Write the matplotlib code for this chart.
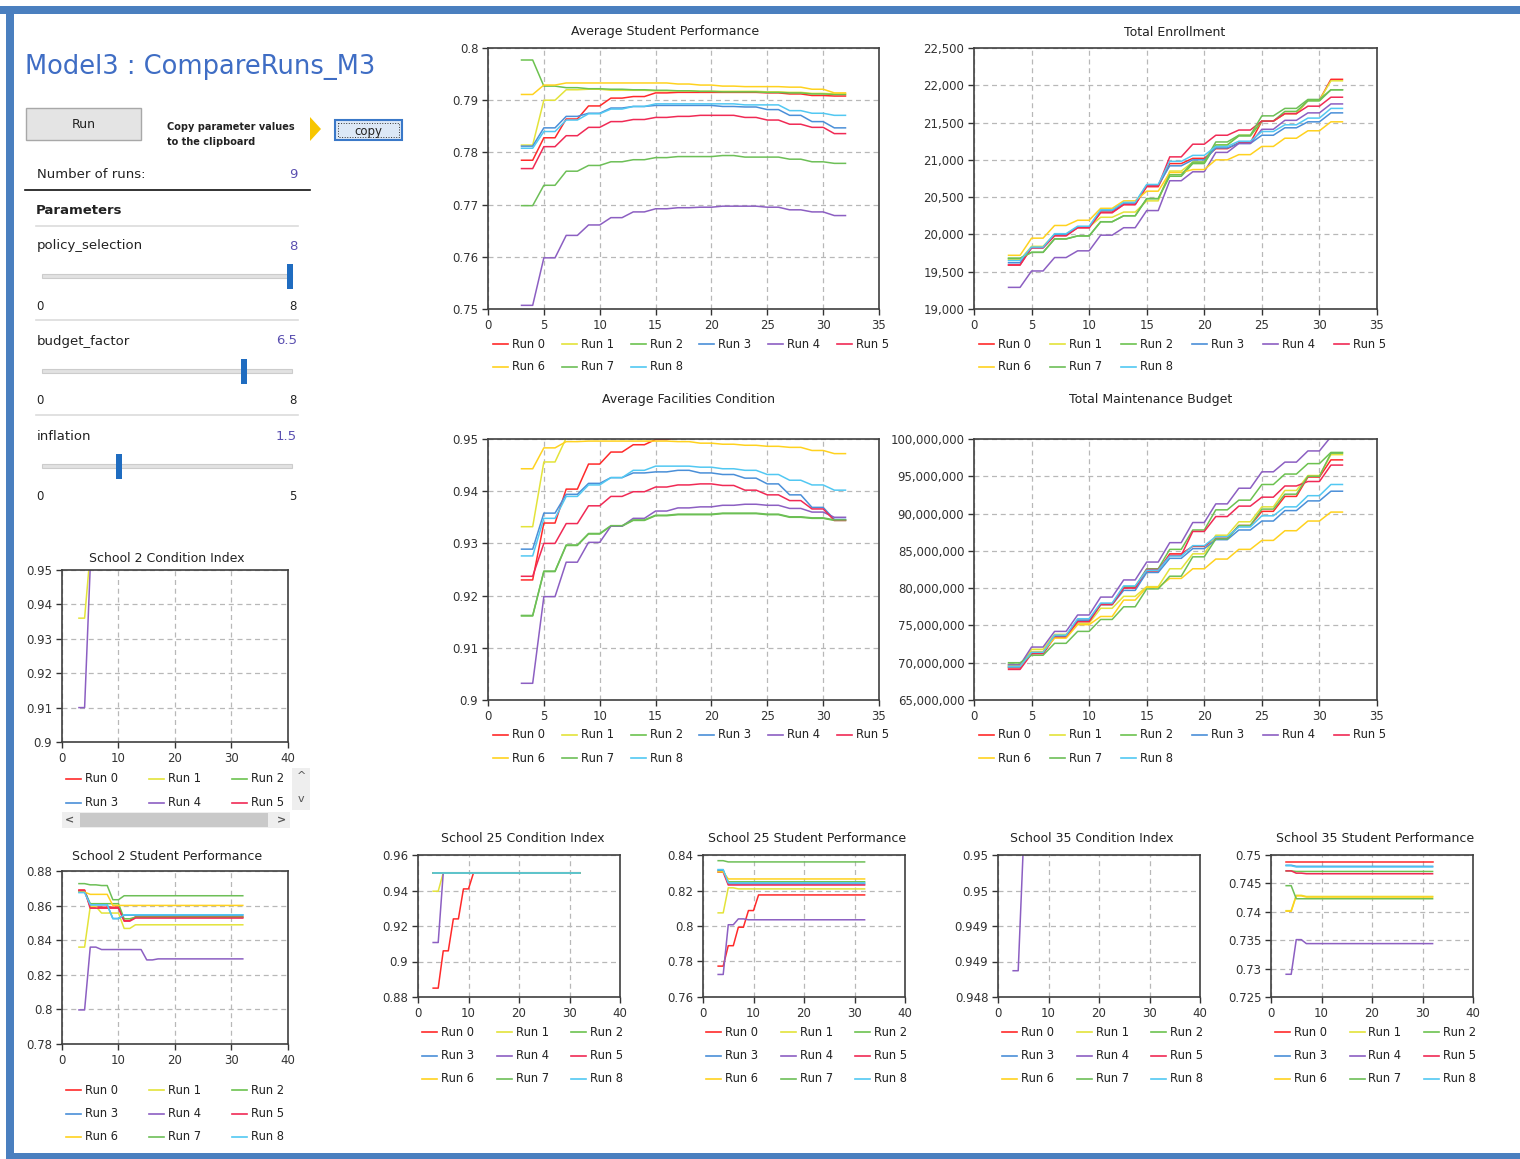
import numpy as np
import matplotlib
matplotlib.use("Agg")
import matplotlib.pyplot as plt
from matplotlib.patches import Rectangle, Polygon
from matplotlib.ticker import FuncFormatter, FixedFormatter

W, H = 1520, 1159

# time axis: values change every 2 steps, so each list holds one value per step pair (3-4, 5-6, ... 31-32)
X = np.arange(3, 33)
RUNS = ["Run 0", "Run 1", "Run 2", "Run 3", "Run 4", "Run 5", "Run 6", "Run 7", "Run 8"]
COLORS = ["#ff2a2a", "#e3e33a", "#6cc24f", "#4a8fd8", "#8c5fc2", "#f02a55", "#ffd21f", "#6dbf57", "#52c8f2"]

avg_student_perf = [
    [0.7785, 0.7828, 0.7864, 0.7889, 0.7904, 0.7907, 0.7914, 0.7915, 0.7915, 0.7915, 0.7915, 0.7914, 0.7912, 0.7909, 0.7908],
    [0.7814, 0.7900, 0.7920, 0.7921, 0.7919, 0.7919, 0.7918, 0.7918, 0.7917, 0.7917, 0.7917, 0.7916, 0.7915, 0.7913, 0.7912],
    [0.7977, 0.7927, 0.7924, 0.7922, 0.7921, 0.7920, 0.7919, 0.7918, 0.7917, 0.7916, 0.7916, 0.7915, 0.7914, 0.7912, 0.7911],
    [0.7812, 0.7847, 0.7869, 0.7875, 0.7885, 0.7888, 0.7890, 0.7890, 0.7890, 0.7888, 0.7887, 0.7882, 0.7871, 0.7859, 0.7847],
    [0.7507, 0.7598, 0.7641, 0.7661, 0.7675, 0.7686, 0.7692, 0.7694, 0.7695, 0.7697, 0.7697, 0.7695, 0.7690, 0.7686, 0.7679],
    [0.7769, 0.7811, 0.7832, 0.7848, 0.7859, 0.7863, 0.7867, 0.7869, 0.7871, 0.7871, 0.7867, 0.7862, 0.7854, 0.7848, 0.7836],
    [0.7911, 0.7929, 0.7933, 0.7933, 0.7933, 0.7933, 0.7933, 0.7931, 0.7929, 0.7927, 0.7926, 0.7926, 0.7925, 0.7921, 0.7914],
    [0.7698, 0.7737, 0.7764, 0.7775, 0.7782, 0.7786, 0.7790, 0.7792, 0.7792, 0.7794, 0.7791, 0.7791, 0.7787, 0.7782, 0.7779],
    [0.7808, 0.7840, 0.7862, 0.7874, 0.7883, 0.7888, 0.7893, 0.7893, 0.7893, 0.7893, 0.7891, 0.7891, 0.7880, 0.7875, 0.7871],
]

total_enrollment = [
    [19590, 19830, 19990, 20090, 20300, 20400, 20640, 20950, 21020, 21150, 21230, 21520, 21620, 21800, 22080],
    [19660, 19840, 20000, 20100, 20230, 20300, 20450, 20850, 20970, 21200, 21330, 21520, 21620, 21800, 22060],
    [19680, 19760, 19940, 19980, 20170, 20250, 20480, 20780, 20950, 21200, 21320, 21520, 21650, 21790, 21940],
    [19620, 19820, 20000, 20100, 20320, 20420, 20660, 20920, 21000, 21160, 21220, 21330, 21430, 21510, 21630],
    [19290, 19510, 19690, 19780, 19990, 20090, 20320, 20720, 20840, 21100, 21220, 21410, 21530, 21630, 21750],
    [19590, 19820, 19980, 20090, 20290, 20400, 20650, 21040, 21210, 21330, 21400, 21520, 21620, 21720, 21840],
    [19720, 19950, 20120, 20190, 20350, 20450, 20580, 20830, 20870, 21000, 21070, 21180, 21290, 21390, 21510],
    [19680, 19760, 19940, 19980, 20170, 20250, 20480, 20800, 20970, 21240, 21330, 21590, 21690, 21810, 21940],
    [19650, 19830, 20010, 20110, 20330, 20430, 20670, 20980, 21060, 21180, 21250, 21380, 21470, 21560, 21690],
]

avg_facilities = [
    [0.9230, 0.9339, 0.9404, 0.9452, 0.9475, 0.9489, 0.9499, 0.9503, 0.9505, 0.9506, 0.9506, 0.9505, 0.9504, 0.9503, 0.9502],
    [0.9332, 0.9456, 0.9502, 0.9508, 0.9510, 0.9511, 0.9512, 0.9512, 0.9511, 0.9510, 0.9509, 0.9508, 0.9507, 0.9505, 0.9503],
    [0.9161, 0.9246, 0.9296, 0.9318, 0.9333, 0.9344, 0.9353, 0.9355, 0.9355, 0.9357, 0.9357, 0.9355, 0.9350, 0.9348, 0.9344],
    [0.9289, 0.9358, 0.9394, 0.9415, 0.9426, 0.9435, 0.9437, 0.9440, 0.9435, 0.9432, 0.9425, 0.9414, 0.9393, 0.9369, 0.9346],
    [0.9032, 0.9198, 0.9264, 0.9302, 0.9333, 0.9348, 0.9362, 0.9368, 0.9370, 0.9373, 0.9375, 0.9373, 0.9367, 0.9360, 0.9350],
    [0.9237, 0.9300, 0.9338, 0.9372, 0.9390, 0.9399, 0.9408, 0.9412, 0.9414, 0.9411, 0.9402, 0.9393, 0.9382, 0.9366, 0.9344],
    [0.9443, 0.9483, 0.9495, 0.9496, 0.9496, 0.9496, 0.9496, 0.9495, 0.9492, 0.9490, 0.9488, 0.9486, 0.9484, 0.9478, 0.9472],
    [0.9162, 0.9247, 0.9297, 0.9319, 0.9334, 0.9345, 0.9354, 0.9356, 0.9356, 0.9358, 0.9358, 0.9356, 0.9351, 0.9349, 0.9345],
    [0.9276, 0.9348, 0.9390, 0.9412, 0.9426, 0.9440, 0.9448, 0.9448, 0.9446, 0.9443, 0.9440, 0.9432, 0.9421, 0.9412, 0.9402],
]

# millions
maintenance_budget = [
    [69.3, 71.3, 73.5, 75.7, 77.9, 80.1, 82.3, 84.6, 85.6, 86.7, 88.4, 90.3, 92.3, 94.9, 97.2],
    [69.6, 71.8, 73.8, 75.3, 77.3, 78.9, 80.2, 82.6, 84.6, 87.1, 88.9, 90.9, 93.1, 95.1, 97.9],
    [69.8, 71.4, 73.6, 75.6, 77.8, 80.2, 82.6, 85.2, 87.8, 90.5, 91.8, 93.9, 95.3, 96.7, 98.2],
    [69.4, 71.3, 73.5, 75.7, 77.8, 79.7, 82.1, 84.0, 85.3, 86.5, 87.8, 89.0, 90.4, 91.7, 93.0],
    [69.7, 72.1, 74.2, 76.4, 78.8, 81.1, 83.5, 86.1, 88.8, 91.3, 93.4, 95.6, 96.9, 98.4, 100.3],
    [69.1, 71.2, 73.4, 75.5, 77.8, 80.0, 82.5, 84.4, 87.6, 89.6, 91.0, 92.2, 93.7, 94.3, 96.5],
    [69.5, 71.5, 73.3, 75.1, 76.2, 78.4, 80.1, 81.3, 82.6, 83.9, 85.2, 86.4, 87.7, 89.0, 90.2],
    [70.0, 71.0, 72.6, 74.2, 75.8, 77.5, 79.9, 81.6, 84.2, 86.6, 88.4, 90.6, 92.6, 95.0, 98.1],
    [69.5, 71.4, 73.7, 75.9, 78.0, 80.3, 82.4, 84.3, 85.7, 86.9, 88.2, 89.7, 90.9, 92.4, 93.9],
]

school2_condition = [
    [0.955, 0.955, 0.955, 0.955, 0.955, 0.955, 0.955, 0.955, 0.955, 0.955, 0.955, 0.955, 0.955, 0.955, 0.955],
    [0.936, 0.955, 0.955, 0.955, 0.955, 0.955, 0.955, 0.955, 0.955, 0.955, 0.955, 0.955, 0.955, 0.955, 0.955],
    [0.955, 0.955, 0.955, 0.955, 0.955, 0.955, 0.955, 0.955, 0.955, 0.955, 0.955, 0.955, 0.955, 0.955, 0.955],
    [0.955, 0.955, 0.955, 0.955, 0.955, 0.955, 0.955, 0.955, 0.955, 0.955, 0.955, 0.955, 0.955, 0.955, 0.955],
    [0.910, 0.951, 0.955, 0.955, 0.955, 0.955, 0.955, 0.955, 0.955, 0.955, 0.955, 0.955, 0.955, 0.955, 0.955],
    [0.955, 0.955, 0.955, 0.955, 0.955, 0.955, 0.955, 0.955, 0.955, 0.955, 0.955, 0.955, 0.955, 0.955, 0.955],
    [0.955, 0.955, 0.955, 0.955, 0.955, 0.955, 0.955, 0.955, 0.955, 0.955, 0.955, 0.955, 0.955, 0.955, 0.955],
    [0.955, 0.955, 0.955, 0.955, 0.955, 0.955, 0.955, 0.955, 0.955, 0.955, 0.955, 0.955, 0.955, 0.955, 0.955],
    [0.955, 0.955, 0.955, 0.955, 0.955, 0.955, 0.955, 0.955, 0.955, 0.955, 0.955, 0.955, 0.955, 0.955, 0.955],
]

school2_perf = [
    [0.8690, 0.8591, 0.8591, 0.8591, 0.8514, 0.8535, 0.8535, 0.8535, 0.8535, 0.8535, 0.8535, 0.8535, 0.8535, 0.8535, 0.8535],
    [0.8360, 0.8595, 0.8557, 0.8557, 0.8468, 0.8489, 0.8489, 0.8489, 0.8489, 0.8489, 0.8489, 0.8489, 0.8489, 0.8489, 0.8489],
    [0.8685, 0.8611, 0.8611, 0.8611, 0.8524, 0.8533, 0.8533, 0.8533, 0.8533, 0.8533, 0.8533, 0.8533, 0.8533, 0.8533, 0.8533],
    [0.8680, 0.8605, 0.8605, 0.8525, 0.8545, 0.8545, 0.8545, 0.8545, 0.8545, 0.8545, 0.8545, 0.8545, 0.8545, 0.8545, 0.8545],
    [0.7997, 0.8360, 0.8346, 0.8346, 0.8346, 0.8346, 0.8286, 0.8292, 0.8292, 0.8292, 0.8292, 0.8292, 0.8292, 0.8292, 0.8292],
    [0.8688, 0.8585, 0.8585, 0.8585, 0.8510, 0.8528, 0.8528, 0.8528, 0.8528, 0.8528, 0.8528, 0.8528, 0.8528, 0.8528, 0.8528],
    [0.8678, 0.8665, 0.8665, 0.8601, 0.8601, 0.8601, 0.8601, 0.8601, 0.8601, 0.8601, 0.8601, 0.8601, 0.8601, 0.8601, 0.8601],
    [0.8727, 0.8720, 0.8716, 0.8634, 0.8657, 0.8657, 0.8657, 0.8657, 0.8657, 0.8657, 0.8657, 0.8657, 0.8657, 0.8657, 0.8657],
    [0.8675, 0.8605, 0.8605, 0.8525, 0.8547, 0.8547, 0.8547, 0.8547, 0.8547, 0.8547, 0.8547, 0.8547, 0.8547, 0.8547, 0.8547],
]

school25_condition = [
    [0.885, 0.906, 0.924, 0.9409, 0.95, 0.95, 0.95, 0.95, 0.95, 0.95, 0.95, 0.95, 0.95, 0.95, 0.95],
    [0.9396, 0.95, 0.95, 0.95, 0.95, 0.95, 0.95, 0.95, 0.95, 0.95, 0.95, 0.95, 0.95, 0.95, 0.95],
    [0.95, 0.95, 0.95, 0.95, 0.95, 0.95, 0.95, 0.95, 0.95, 0.95, 0.95, 0.95, 0.95, 0.95, 0.95],
    [0.95, 0.95, 0.95, 0.95, 0.95, 0.95, 0.95, 0.95, 0.95, 0.95, 0.95, 0.95, 0.95, 0.95, 0.95],
    [0.9107, 0.95, 0.95, 0.95, 0.95, 0.95, 0.95, 0.95, 0.95, 0.95, 0.95, 0.95, 0.95, 0.95, 0.95],
    [0.95, 0.95, 0.95, 0.95, 0.95, 0.95, 0.95, 0.95, 0.95, 0.95, 0.95, 0.95, 0.95, 0.95, 0.95],
    [0.95, 0.95, 0.95, 0.95, 0.95, 0.95, 0.95, 0.95, 0.95, 0.95, 0.95, 0.95, 0.95, 0.95, 0.95],
    [0.95, 0.95, 0.95, 0.95, 0.95, 0.95, 0.95, 0.95, 0.95, 0.95, 0.95, 0.95, 0.95, 0.95, 0.95],
    [0.95, 0.95, 0.95, 0.95, 0.95, 0.95, 0.95, 0.95, 0.95, 0.95, 0.95, 0.95, 0.95, 0.95, 0.95],
]

school25_perf = [
    [0.7774, 0.7889, 0.7993, 0.8087, 0.8175, 0.8175, 0.8175, 0.8175, 0.8175, 0.8175, 0.8175, 0.8175, 0.8175, 0.8175, 0.8175],
    [0.8074, 0.8215, 0.8209, 0.8209, 0.8209, 0.8209, 0.8209, 0.8209, 0.8209, 0.8209, 0.8209, 0.8209, 0.8209, 0.8209, 0.8209],
    [0.8310, 0.8249, 0.8249, 0.8249, 0.8249, 0.8249, 0.8249, 0.8249, 0.8249, 0.8249, 0.8249, 0.8249, 0.8249, 0.8249, 0.8249],
    [0.8315, 0.8237, 0.8237, 0.8237, 0.8237, 0.8237, 0.8237, 0.8237, 0.8237, 0.8237, 0.8237, 0.8237, 0.8237, 0.8237, 0.8237],
    [0.7727, 0.8007, 0.8040, 0.8035, 0.8035, 0.8035, 0.8035, 0.8035, 0.8035, 0.8035, 0.8035, 0.8035, 0.8035, 0.8035, 0.8035],
    [0.8303, 0.8231, 0.8231, 0.8231, 0.8231, 0.8231, 0.8231, 0.8231, 0.8231, 0.8231, 0.8231, 0.8231, 0.8231, 0.8231, 0.8231],
    [0.8305, 0.8265, 0.8265, 0.8265, 0.8265, 0.8265, 0.8265, 0.8265, 0.8265, 0.8265, 0.8265, 0.8265, 0.8265, 0.8265, 0.8265],
    [0.8368, 0.8361, 0.8361, 0.8361, 0.8361, 0.8361, 0.8361, 0.8361, 0.8361, 0.8361, 0.8361, 0.8361, 0.8361, 0.8361, 0.8361],
    [0.8318, 0.8243, 0.8243, 0.8243, 0.8243, 0.8243, 0.8243, 0.8243, 0.8243, 0.8243, 0.8243, 0.8243, 0.8243, 0.8243, 0.8243],
]

school35_condition = [
    [0.9502, 0.9502, 0.9502, 0.9502, 0.9502, 0.9502, 0.9502, 0.9502, 0.9502, 0.9502, 0.9502, 0.9502, 0.9502, 0.9502, 0.9502],
    [0.9502, 0.9502, 0.9502, 0.9502, 0.9502, 0.9502, 0.9502, 0.9502, 0.9502, 0.9502, 0.9502, 0.9502, 0.9502, 0.9502, 0.9502],
    [0.9502, 0.9502, 0.9502, 0.9502, 0.9502, 0.9502, 0.9502, 0.9502, 0.9502, 0.9502, 0.9502, 0.9502, 0.9502, 0.9502, 0.9502],
    [0.9502, 0.9502, 0.9502, 0.9502, 0.9502, 0.9502, 0.9502, 0.9502, 0.9502, 0.9502, 0.9502, 0.9502, 0.9502, 0.9502, 0.9502],
    [0.94837, 0.9501, 0.9502, 0.9502, 0.9502, 0.9502, 0.9502, 0.9502, 0.9502, 0.9502, 0.9502, 0.9502, 0.9502, 0.9502, 0.9502],
    [0.9502, 0.9502, 0.9502, 0.9502, 0.9502, 0.9502, 0.9502, 0.9502, 0.9502, 0.9502, 0.9502, 0.9502, 0.9502, 0.9502, 0.9502],
    [0.9502, 0.9502, 0.9502, 0.9502, 0.9502, 0.9502, 0.9502, 0.9502, 0.9502, 0.9502, 0.9502, 0.9502, 0.9502, 0.9502, 0.9502],
    [0.9502, 0.9502, 0.9502, 0.9502, 0.9502, 0.9502, 0.9502, 0.9502, 0.9502, 0.9502, 0.9502, 0.9502, 0.9502, 0.9502, 0.9502],
    [0.9502, 0.9502, 0.9502, 0.9502, 0.9502, 0.9502, 0.9502, 0.9502, 0.9502, 0.9502, 0.9502, 0.9502, 0.9502, 0.9502, 0.9502],
]
school35_cond_ticklabels = ["0.948", "0.949", "0.949", "0.95", "0.95"]

school35_perf = [
    [0.7488, 0.7488, 0.7488, 0.7488, 0.7488, 0.7488, 0.7488, 0.7488, 0.7488, 0.7488, 0.7488, 0.7488, 0.7488, 0.7488, 0.7488],
    [0.7402, 0.7429, 0.7427, 0.7427, 0.7427, 0.7427, 0.7427, 0.7427, 0.7427, 0.7427, 0.7427, 0.7427, 0.7427, 0.7427, 0.7427],
    [0.7472, 0.7471, 0.7471, 0.7471, 0.7471, 0.7471, 0.7471, 0.7471, 0.7471, 0.7471, 0.7471, 0.7471, 0.7471, 0.7471, 0.7471],
    [0.7482, 0.7480, 0.7480, 0.7480, 0.7480, 0.7480, 0.7480, 0.7480, 0.7480, 0.7480, 0.7480, 0.7480, 0.7480, 0.7480, 0.7480],
    [0.7290, 0.7351, 0.7344, 0.7344, 0.7344, 0.7344, 0.7344, 0.7344, 0.7344, 0.7344, 0.7344, 0.7344, 0.7344, 0.7344, 0.7344],
    [0.7472, 0.7468, 0.7467, 0.7467, 0.7467, 0.7467, 0.7467, 0.7467, 0.7467, 0.7467, 0.7467, 0.7467, 0.7467, 0.7467, 0.7467],
    [0.7401, 0.7428, 0.7426, 0.7426, 0.7426, 0.7426, 0.7426, 0.7426, 0.7426, 0.7426, 0.7426, 0.7426, 0.7426, 0.7426, 0.7426],
    [0.7446, 0.7423, 0.7423, 0.7423, 0.7423, 0.7423, 0.7423, 0.7423, 0.7423, 0.7423, 0.7423, 0.7423, 0.7423, 0.7423, 0.7423],
    [0.7481, 0.7479, 0.7479, 0.7479, 0.7479, 0.7479, 0.7479, 0.7479, 0.7479, 0.7479, 0.7479, 0.7479, 0.7479, 0.7479, 0.7479],
]

# parameter panel values
n_runs = 9
params = [("policy_selection", "8", 8, 0, 8), ("budget_factor", "6.5", 6.5, 0, 8), ("inflation", "1.5", 1.5, 0, 5)]

fig = plt.figure(figsize=(W / 100, H / 100), dpi=100)
fig.patch.set_facecolor("white")

# background axes in pixel coords for the frame, panel and legends
bg = fig.add_axes([0, 0, 1, 1])
bg.set_xlim(0, W)
bg.set_ylim(H, 0)
bg.axis("off")

BLUE = "#4a7fbf"
bg.add_patch(Rectangle((0, 6), W, 8, color=BLUE, lw=0))
bg.add_patch(Rectangle((6, 6), 8, H - 6, color=BLUE, lw=0))
bg.add_patch(Rectangle((6, 1153), W, 6, color=BLUE, lw=0))

TXT = "#222222"
bg.text(25, 67, "Model3 : CompareRuns_M3", fontsize=18.5, color="#3f6dc4", va="center", ha="left")
bg.add_patch(Rectangle((26, 108), 115, 32, fc="#e4e4e4", ec="#a8a8a8", lw=1))
bg.text(84, 125, "Run", fontsize=9, color=TXT, ha="center", va="center")
bg.text(167, 127, "Copy parameter values", fontsize=7, fontweight="bold", color=TXT, va="center")
bg.text(167, 142, "to the clipboard", fontsize=7, fontweight="bold", color=TXT, va="center")
bg.add_patch(Polygon([(310, 117), (321, 129), (310, 141)], closed=True, color="#f7c600", lw=0))
bg.add_patch(Rectangle((335, 120), 67, 20, fc="#dce8f6", ec="#3a78c8", lw=1.5))
bg.add_patch(Rectangle((338, 123), 61, 14, fill=False, ec="#333333", lw=0.7, ls=":"))
bg.text(368, 131, "copy", fontsize=8.5, color=TXT, ha="center", va="center")

bg.text(37, 175, "Number of runs:", fontsize=9.5, color=TXT, va="center")
bg.text(297, 175, str(n_runs), fontsize=9.5, color="#5a4fb0", va="center", ha="right")
bg.plot([25, 310], [190, 190], color="#111111", lw=1.2)
bg.text(36, 210, "Parameters", fontsize=9.5, fontweight="bold", color=TXT, va="center")
bg.plot([36, 298], [226, 226], color="#dcdcdc", lw=1.2)

for k, (pname, plabel, pval, pmin, pmax) in enumerate(params):
    y0 = 246 + 95 * k
    bg.text(37, y0, pname, fontsize=9.5, color=TXT, va="center")
    bg.text(297, y0, plabel, fontsize=9.5, color="#5a4fb0", va="center", ha="right")
    ty = y0 + 30
    bg.add_patch(Rectangle((42, ty - 2), 250, 4, fc="#e2e2e2", ec="#cccccc", lw=0.8))
    hx = 45 + (pval - pmin) / (pmax - pmin) * 245
    bg.add_patch(Rectangle((hx - 3, ty - 12), 6, 25, fc="#1f6cc0", lw=0))
    bg.text(36, y0 + 60, str(pmin), fontsize=8.5, color=TXT, va="center")
    bg.text(297, y0 + 60, str(pmax), fontsize=8.5, color=TXT, va="center", ha="right")
    if k < 2:
        bg.plot([36, 298], [y0 + 74, y0 + 74], color="#dcdcdc", lw=1.2)


def box(x0, y0, x1, y1):
    return [x0 / W, 1 - y1 / H, (x1 - x0) / W, (y1 - y0) / H]


def fmt_g(v, pos):
    return f"{round(v, 6):g}"


def fmt_comma(v, pos):
    return f"{v:,.0f}"


def draw_legend(xt0, y0, dx, dy, ncol, count=9):
    for i in range(count):
        r, c = divmod(i, ncol)
        xt = xt0 + c * dx
        y = y0 + r * dy
        bg.plot([xt - 19, xt - 4], [y, y], color=COLORS[i], lw=1.2)
        bg.text(xt, y, RUNS[i], fontsize=8.3, color=TXT, va="center", ha="left")


def make_chart(series, scale, rect, xmax, xstep, ylo, yhi, nty, formatter, title, tx, ty):
    ax = fig.add_axes(box(*rect))
    for i, vals in enumerate(series):
        ax.plot(X, np.repeat(np.array(vals) * scale, 2), color=COLORS[i], lw=1.1)
    ax.set_xlim(0, xmax)
    ax.set_ylim(ylo, yhi)
    ax.set_xticks(np.arange(0, xmax + 1, xstep))
    ax.set_yticks(np.linspace(ylo, yhi, nty))
    ax.xaxis.set_major_formatter(FuncFormatter(fmt_g))
    ax.yaxis.set_major_formatter(formatter)
    ax.grid(True, color="#b8b8b8", lw=0.9, ls=(0, (4, 3)))
    for s in ax.spines.values():
        s.set_color("#404040")
        s.set_linewidth(1.2)
    ax.tick_params(labelsize=8.5, colors="#333333", length=4, width=1, pad=3, direction="out")
    bg.text(tx, ty, title, fontsize=9, color=TXT, ha="center", va="center")
    return ax


make_chart(avg_student_perf, 1, (488, 48, 879, 309), 35, 5, 0.75, 0.8, 6, FuncFormatter(fmt_g),
           "Average Student Performance", 665, 32)
draw_legend(512, 344, 68.8, 23, 6)

make_chart(total_enrollment, 1, (974, 48, 1377, 309), 35, 5, 19000, 22500, 8, FuncFormatter(fmt_comma),
           "Total Enrollment", 1175, 32)
draw_legend(998, 344, 71, 23, 6)

make_chart(avg_facilities, 1, (488, 439, 879, 700), 35, 5, 0.9, 0.95, 6, FuncFormatter(fmt_g),
           "Average Facilities Condition", 688, 400)
draw_legend(512, 735, 68.8, 23, 6)

make_chart(maintenance_budget, 1e6, (974, 439, 1377, 700), 35, 5, 65e6, 100e6, 8, FuncFormatter(fmt_comma),
           "Total Maintenance Budget", 1151, 400)
draw_legend(998, 735, 71, 23, 6)

make_chart(school2_condition, 1, (62, 570, 288, 742), 40, 10, 0.9, 0.95, 6, FuncFormatter(fmt_g),
           "School 2 Condition Index", 167, 559)
draw_legend(85, 779, 83, 23.5, 3, count=6)
# scroll widgets of the clipped legend
bg.add_patch(Rectangle((292, 768), 18, 42, fc="#eeeeee", lw=0))
bg.text(301, 776, "^", fontsize=8, color="#555555", ha="center", va="center")
bg.text(301, 799, "v", fontsize=8, color="#555555", ha="center", va="center")
bg.add_patch(Rectangle((62, 812), 228, 16, fc="#eeeeee", lw=0))
bg.add_patch(Rectangle((80, 813), 188, 14, fc="#c9c9c9", lw=0))
bg.text(70, 820, "<", fontsize=8, color="#555555", ha="center", va="center", fontweight="bold")
bg.text(281, 820, ">", fontsize=8, color="#555555", ha="center", va="center", fontweight="bold")

make_chart(school2_perf, 1, (62, 871, 288, 1044), 40, 10, 0.78, 0.88, 6, FuncFormatter(fmt_g),
           "School 2 Student Performance", 167, 856)
draw_legend(85, 1090, 83, 23.5, 3)

make_chart(school25_condition, 1, (418, 855, 620, 997), 40, 10, 0.88, 0.96, 5, FuncFormatter(fmt_g),
           "School 25 Condition Index", 523, 839)
draw_legend(441, 1032, 74.5, 23.5, 3)

make_chart(school25_perf, 1, (703, 855, 905, 997), 40, 10, 0.76, 0.84, 5, FuncFormatter(fmt_g),
           "School 25 Student Performance", 807, 839)
draw_legend(725, 1032, 74.5, 23.5, 3)

make_chart(school35_condition, 1, (998, 855, 1200, 997), 40, 10, 0.948, 0.95, 5,
           FixedFormatter(school35_cond_ticklabels), "School 35 Condition Index", 1092, 839)
draw_legend(1021, 1032, 74.5, 23.5, 3)

make_chart(school35_perf, 1, (1271, 855, 1473, 997), 40, 10, 0.725, 0.75, 6, FuncFormatter(fmt_g),
           "School 35 Student Performance", 1375, 839)
draw_legend(1294, 1032, 74.5, 23.5, 3)

fig.savefig("out.png", dpi=100)
